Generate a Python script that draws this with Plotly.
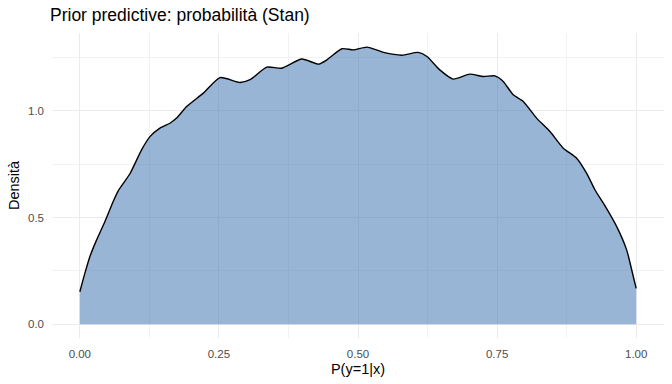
import plotly.graph_objects as go

prob = [0.000, 0.009, 0.018, 0.030, 0.045, 0.060, 0.069, 0.090, 0.111, 0.126,
        0.144, 0.162, 0.174, 0.192, 0.222, 0.252, 0.288, 0.306, 0.336, 0.363,
        0.399, 0.429, 0.444, 0.471, 0.492, 0.516, 0.546, 0.579, 0.608, 0.624,
        0.647, 0.671, 0.701, 0.725, 0.746, 0.761, 0.779, 0.797, 0.821, 0.845,
        0.869, 0.893, 0.911, 0.926, 0.941, 0.965, 0.983, 0.992, 1.000]
density = [0.152, 0.238, 0.316, 0.394, 0.480, 0.575, 0.625, 0.705, 0.817, 0.879,
           0.919, 0.942, 0.966, 1.020, 1.083, 1.156, 1.133, 1.146, 1.205, 1.200,
           1.243, 1.219, 1.239, 1.291, 1.286, 1.299, 1.274, 1.261, 1.274, 1.255,
           1.192, 1.149, 1.172, 1.161, 1.164, 1.138, 1.075, 1.044, 0.966, 0.903,
           0.825, 0.778, 0.707, 0.629, 0.567, 0.457, 0.347, 0.254, 0.168]

x_ticks = [0.0, 0.25, 0.5, 0.75, 1.0]
y_ticks = [0.0, 0.5, 1.0]

FONT = "Liberation Sans, Arial, sans-serif"

fig = go.Figure()
fig.add_trace(go.Scatter(x=prob, y=density, mode="lines", fill="tozeroy",
                         fillcolor="rgba(70,120,180,0.55)",
                         line=dict(width=0, shape="spline", smoothing=0.6),
                         hoverinfo="skip", showlegend=False))
fig.add_trace(go.Scatter(x=prob, y=density, mode="lines",
                         line=dict(color="black", width=1.4, shape="spline", smoothing=0.6),
                         showlegend=False))

fig.update_layout(
    width=672, height=384,
    margin=dict(l=52, r=8, t=33, b=46, autoexpand=False),
    paper_bgcolor="white", plot_bgcolor="white",
    font=dict(family=FONT, color="black"),
    title=dict(text="Prior predictive: probabilità (Stan)", x=50/672, xanchor="left",
               xref="container", y=1 - 15/384, yanchor="middle", yref="container",
               pad=dict(l=0, r=0, t=0, b=0),
               font=dict(size=17.5, color="black", family=FONT)),
    xaxis=dict(range=[-0.05, 1.05], tickvals=x_ticks, tickformat=".2f",
               showgrid=True, gridcolor="#EBEBEB", gridwidth=1.1,
               minor=dict(dtick=0.125, tick0=0.125, showgrid=True, gridcolor="#F2F2F2", gridwidth=0.6),
               zeroline=False, showline=False, ticks="", automargin=False,
               tickfont=dict(size=11.5, color="#4D4D4D"), ticklabelstandoff=7,
               title=dict(text="P(y=1|x)", font=dict(size=14.5, color="black"), standoff=5)),
    yaxis=dict(range=[-0.065, 1.365], tickvals=y_ticks, tickformat=".1f",
               showgrid=True, gridcolor="#EBEBEB", gridwidth=1.1,
               minor=dict(dtick=0.25, tick0=0.25, showgrid=True, gridcolor="#F2F2F2", gridwidth=0.6),
               zeroline=False, showline=False, ticks="", automargin=False,
               tickfont=dict(size=11.5, color="#4D4D4D"), ticklabelstandoff=7,
               title=dict(text="Densità", font=dict(size=14.5, color="black"), standoff=4)),
)

fig.write_html("out.html", config={"displayModeBar": False},
               post_script="document.body.style.margin='0';")
